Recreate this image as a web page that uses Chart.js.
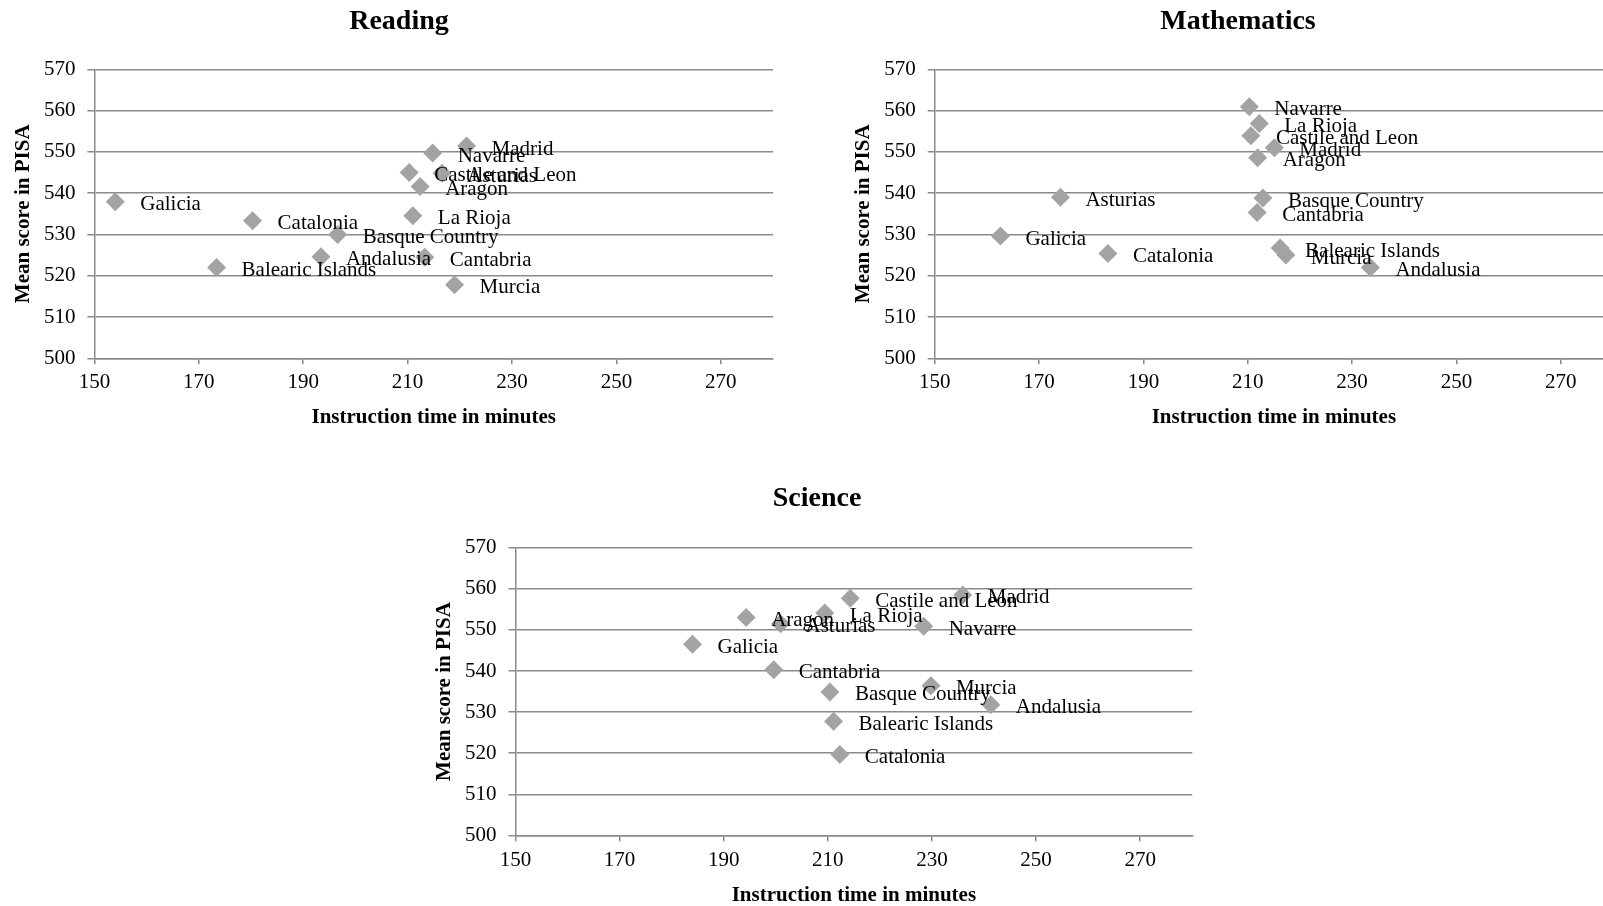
<!DOCTYPE html>
<html>
<head>
<meta charset="utf-8">
<title>PISA scores vs instruction time</title>
<script src="https://cdn.jsdelivr.net/npm/chart.js@4.4.1/dist/chart.umd.min.js"></script>
<style>
  html, body { margin: 0; padding: 0; background: #fff; }
  body { width: 1603px; height: 906px; overflow: hidden; position: relative; }
  canvas { position: absolute; }
</style>
</head>
<body>
<canvas id="readingChart"></canvas>
<canvas id="mathChart"></canvas>
<canvas id="scienceChart"></canvas>

<script>
// regions, same order for every subject
const regions = ["Andalusia", "Aragon", "Asturias", "Balearic Islands", "Basque Country", "Cantabria",
  "Castile and Leon", "Catalonia", "Galicia", "La Rioja", "Madrid", "Murcia", "Navarre"];

// instruction time (minutes) and mean PISA score
const readingTime  = [193.4, 212.4, 216.6, 173.4, 196.6, 213.3, 210.3, 180.3, 154.0, 211.0, 221.3, 219.0, 214.8];
const readingScore = [524.6, 541.6, 544.8, 522.0, 530.0, 524.5, 545.0, 533.3, 537.9, 534.5, 551.4, 517.8, 549.7];

const mathTime  = [233.5, 211.9, 174.1, 216.2, 212.9, 211.8, 210.6, 183.2, 162.6, 212.2, 215.1, 217.3, 210.3];
const mathScore = [522.0, 548.6, 539.0, 526.7, 538.8, 535.3, 553.9, 525.4, 529.6, 556.9, 551.0, 525.0, 560.9];

const scienceTime  = [241.3, 194.3, 200.9, 211.1, 210.4, 199.6, 214.3, 212.3, 184.0, 209.4, 235.9, 229.8, 228.4];
const scienceScore = [531.8, 553.0, 551.5, 527.8, 534.9, 540.3, 557.7, 519.7, 546.5, 554.1, 558.5, 536.4, 550.9];

const xTicks = [150, 170, 190, 210, 230, 250, 270];
const yTicks = [500, 510, 520, 530, 540, 550, 560, 570];

const xTitle = "Instruction time in minutes";
const yTitle = "Mean score in PISA";

const gridColor = "#8a8a8a";
const pointColor = "#a3a3a3";
const serif = "'Liberation Serif', 'Times New Roman', serif";

// draws the chart heading and the region labels next to each diamond
const labelPlugin = {
  id: "labels",
  afterDatasetsDraw(chart, args, opts) {
    const ctx = chart.ctx;
    const xs = chart.scales.x, ys = chart.scales.y;
    const ds = chart.data.datasets[0];
    ctx.save();
    ctx.fillStyle = "#000";
    ctx.font = "21px " + serif;
    ctx.textAlign = "left";
    ctx.textBaseline = "middle";
    ds.data.forEach((p, i) => {
      const px = xs.getPixelForValue(p.x);
      const py = ys.getPixelForValue(p.y);
      ctx.fillText(opts.names[i], px + 25, py + 3);
    });
    ctx.font = "bold 28px " + serif;
    ctx.textAlign = "center";
    ctx.fillText(opts.title, opts.titleX, opts.titleY);
    ctx.restore();
  }
};

function makeChart(id, title, times, scores, box) {
  const canvas = document.getElementById(id);
  canvas.width = box.w;
  canvas.height = box.h;
  canvas.style.left = box.left + "px";
  canvas.style.top = box.top + "px";

  const points = times.map((t, i) => ({ x: t, y: scores[i] }));

  return new Chart(canvas.getContext("2d"), {
    type: "scatter",
    data: {
      datasets: [{
        data: points,
        pointStyle: "rectRot",
        pointRadius: 9.5,
        pointHoverRadius: 9.5,
        backgroundColor: pointColor,
        borderColor: pointColor,
        borderWidth: 0
      }]
    },
    options: {
      responsive: false,
      animation: false,
      devicePixelRatio: 1,
      layout: { padding: { top: box.padTop, right: box.padRight, left: 0, bottom: 0 } },
      plugins: {
        legend: { display: false },
        tooltip: { enabled: false },
        labels: { names: regions, title: title, titleX: box.titleX, titleY: box.titleY }
      },
      scales: {
        x: {
          type: "linear",
          bounds: "data",
          min: 150,
          max: 280,
          afterBuildTicks: s => { s.ticks = xTicks.map(v => ({ value: v })); },
          afterFit: s => { s.height = box.xAxisH; },
          grid: { drawOnChartArea: false, drawTicks: true, tickLength: 6, color: gridColor, lineWidth: 1.5 },
          border: { color: gridColor, width: 1.5 },
          ticks: { color: "#000", font: { family: serif, size: 21 }, padding: 6, maxRotation: 0, autoSkip: false },
          title: { display: true, text: xTitle, color: "#000", font: { family: serif, size: 21, weight: "bold" },
                   padding: { top: 0, bottom: 10 } }
        },
        y: {
          type: "linear",
          bounds: "data",
          min: 500,
          max: 570,
          afterBuildTicks: s => { s.ticks = yTicks.map(v => ({ value: v })); },
          afterFit: s => { s.width = box.yAxisW; },
          grid: { drawTicks: true, tickLength: 7, color: gridColor, lineWidth: 1.5 },
          border: { color: gridColor, width: 1.5 },
          ticks: { color: "#000", font: { family: serif, size: 21 }, padding: 12, autoSkip: false },
          title: { display: true, text: yTitle, color: "#000", font: { family: serif, size: 21, weight: "bold" },
                   padding: { top: 10.5, bottom: 0 } }
        }
      }
    },
    plugins: [labelPlugin]
  });
}

makeChart("readingChart", "Reading", readingTime, readingScore,
  { left: 0, top: 0, w: 800, h: 440, padTop: 69.3, padRight: 27, yAxisW: 94.4, xAxisH: 81.7, titleX: 399, titleY: 22 });

makeChart("mathChart", "Mathematics", mathTime, mathScore,
  { left: 840, top: 0, w: 800, h: 440, padTop: 69.3, padRight: 27, yAxisW: 94.7, xAxisH: 81.7, titleX: 398, titleY: 22 });

makeChart("scienceChart", "Science", scienceTime, scienceScore,
  { left: 421, top: 478, w: 800, h: 440, padTop: 69.7, padRight: 28.7, yAxisW: 94.5, xAxisH: 82.6, titleX: 396, titleY: 21 });
</script>
</body>
</html>
